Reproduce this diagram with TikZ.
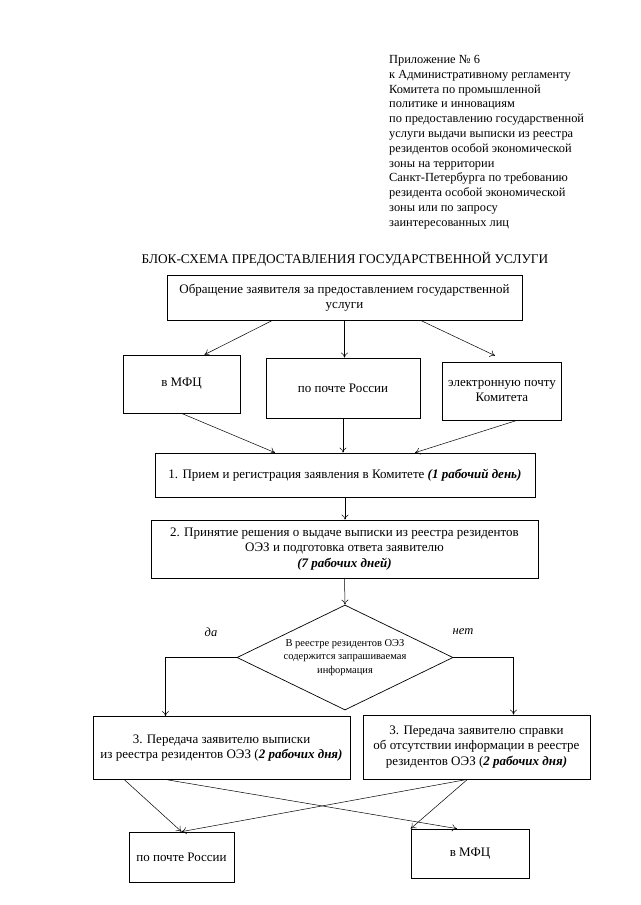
\documentclass[tikz,border=0pt]{standalone}
\usepackage{fontspec}
\setmainfont{Liberation Serif}
\usetikzlibrary{calc,shapes.geometric,arrows.meta}
\begin{document}
\begin{tikzpicture}[x=1pt,y=-1pt,
  box/.style={draw,line width=0.7pt,rectangle,inner sep=2pt,align=center,font=\fontsize{13}{15.5}\selectfont},
  arr/.style={-{To[length=5pt,width=7pt]},line width=0.5pt}]
\useasboundingbox (0,0) rectangle (640,905);
\node[anchor=north west,align=left,inner sep=0,font=\fontsize{12.4}{14.8}\selectfont] (app) at (389,55)
 {Приложение № 6\\к Административному регламенту\\Комитета по промышленной\\политике и инновациям\\по предоставлению государственной\\услуги выдачи выписки из реестра\\резидентов особой экономической\\зоны на территории\\Санкт-Петербурга по требованию\\резидента особой экономической\\зоны или по запросу\\заинтересованных лиц};
\node[font=\fontsize{13.3}{15}\selectfont,inner sep=0] (title) at (345,259) {БЛОК-СХЕМА ПРЕДОСТАВЛЕНИЯ ГОСУДАРСТВЕННОЙ УСЛУГИ};
\node[box,minimum width=355,minimum height=45] (b0) at (344.5,297.5) {Обращение заявителя за предоставлением государственной\\услуги};
\node[box,minimum width=117,minimum height=58] (mfc1) at (181.5,384) {в МФЦ};
\node[box,minimum width=154,minimum height=60] (pr1) at (343,388) {по почте России};
\node[box,minimum width=119,minimum height=58] (el) at (502,391) {электронную почту\\Комитета};
\node[box,minimum width=380,minimum height=44] (b1) at (345,475) {1. Прием и регистрация заявления в Комитете \textbf{\textit{(1 рабочий день)}}};
\node[box,minimum width=387,minimum height=58] (b2) at (344.5,549) {2. Принятие решения о выдаче выписки из реестра резидентов\\ОЭЗ и подготовка ответа заявителю\\\textbf{\textit{(7 рабочих дней)}}};
\node[draw,line width=0.7pt,diamond,minimum width=216,minimum height=105,inner sep=0] (dia) at (345,657.5) {};
\node[align=center,font=\fontsize{10.5}{13.5}\selectfont,inner sep=0] (diat) at (dia.center) {В реестре резидентов ОЭЗ\\содержится запрашиваемая\\информация};
\node[font=\fontsize{12.5}{14}\itshape,inner sep=0] (da) at (211,632) {да};
\node[font=\fontsize{12.5}{14}\itshape,inner sep=0] (net) at (463,632) {нет};
\node[box,minimum width=257,minimum height=63] (a3) at (221.5,748) {3. Передача заявителю выписки\\из реестра резидентов ОЭЗ (\textbf{\textit{2 рабочих дня)}}};
\node[box,minimum width=227,minimum height=64] (b3) at (476.5,747) {3. Передача заявителю справки\\об отсутствии информации в реестре\\резидентов ОЭЗ (\textbf{\textit{2 рабочих дня)}}};
\node[box,minimum width=105,minimum height=50] (pl) at (181.5,857) {по почте России};
\node[box,minimum width=118,minimum height=49] (mfc2) at (470,853.5) {в МФЦ};
% connectors
\draw[arr] ($(b0.south)+(-72,0)$) -- ($(mfc1.north)+(23,0)$);
\draw[arr] (b0.south) -- (b0.south |- pr1.north);
\draw[arr] ($(b0.south)+(76,0)$) -- ($(el.north)+(-7,-6)$);
\draw[arr] (mfc1.south) -- ($(b1.north)+(-70,0)$);
\draw[arr] (pr1.south) -- (pr1.south |- b1.north);
\draw[arr] ($(el.south)+(15,0)$) -- ($(b1.north)+(70,0)$);
\draw[arr] (b1.south) -- (b1.south |- b2.north);
\draw[arr] (b2.south) -- (dia.north);
\draw[arr] (dia.west) -| ($(a3.north)+(-56,0)$);
\draw[arr] (dia.east) -| ($(b3.north)+(37,0)$);
\draw[arr] ($(a3.south)+(-97,0)$) -- (pl.north);
\draw[arr] ($(a3.south)+(-54,0)$) -- ($(mfc2.north)+(-13,0)$);
\draw[arr] ($(b3.south)+(-9,0)$) -- (pl.north);
\draw[arr] ($(b3.south)+(-9,0)$) -- (mfc2.north west);
\end{tikzpicture}
\end{document}
